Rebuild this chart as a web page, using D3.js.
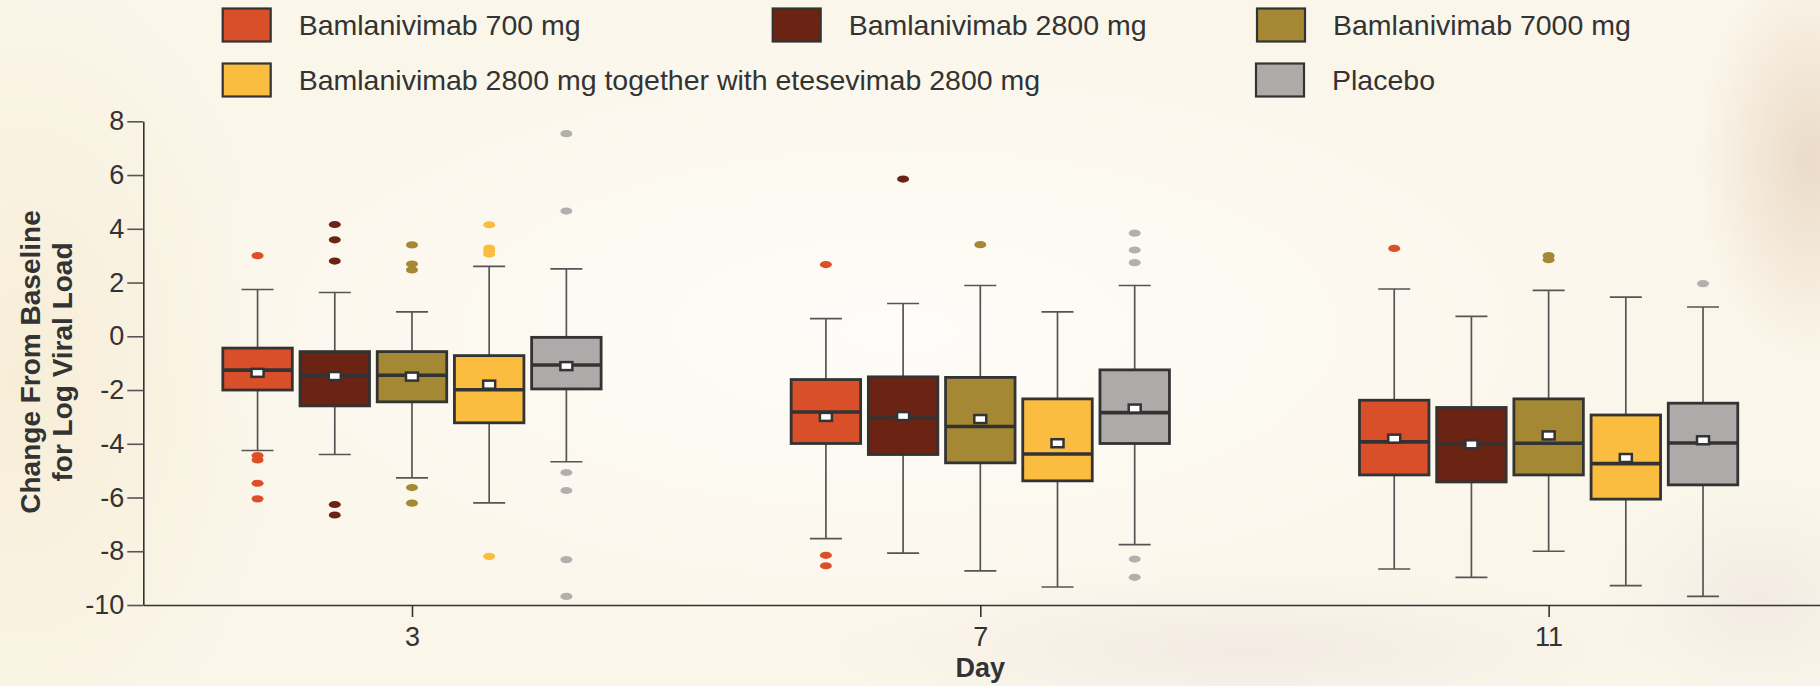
<!DOCTYPE html>
<html>
<head>
<meta charset="utf-8">
<script src="https://cdn.jsdelivr.net/npm/d3@7"></script>
<style>
  html, body { margin: 0; padding: 0; background: #fbf7ec; }
  svg { display: block; }
  text { font-family: "Liberation Sans", Arial, Helvetica, sans-serif; fill: #333; }
</style>
</head>
<body>
<svg id="chart" width="1820" height="686"></svg>
<script>
// ---------------- DATA ----------------
const days = [3, 7, 11];
const seriesNames = [
  "Bamlanivimab 700 mg",
  "Bamlanivimab 2800 mg",
  "Bamlanivimab 7000 mg",
  "Bamlanivimab 2800 mg together with etesevimab 2800 mg",
  "Placebo"
];
const seriesColors = ["#d94f2a", "#6b2413", "#a48833", "#fbbd40", "#adaaa9"];
const outlierColors = ["#dc5029", "#6b2413", "#a48833", "#fbbd40", "#b2b0ae"];
const yTicks = [-10, -8, -6, -4, -2, 0, 2, 4, 6, 8];

// each array: [series][day index] (days 3, 7, 11)
const whiskerLow = [
  [-4.25, -7.53, -8.66],
  [-4.40, -8.07, -8.97],
  [-5.27, -8.73, -8.00],
  [-6.20, -9.33, -9.28],
  [-4.67, -7.75, -9.68]
];
const q1 = [
  [-2.00, -3.99, -5.16],
  [-2.59, -4.40, -5.42],
  [-2.44, -4.71, -5.16],
  [-3.22, -5.38, -6.06],
  [-1.96, -3.99, -5.53]
];
const median = [
  [-1.26, -2.82, -3.93],
  [-1.46, -3.04, -4.02],
  [-1.45, -3.36, -3.98],
  [-1.99, -4.38, -4.74],
  [-1.07, -2.84, -3.97]
];
const q3 = [
  [-0.44, -1.61, -2.38],
  [-0.57, -1.51, -2.65],
  [-0.57, -1.53, -2.33],
  [-0.72, -2.33, -2.93],
  [-0.04, -1.25, -2.49]
];
const whiskerHigh = [
  [1.74, 0.66, 1.76],
  [1.63, 1.22, 0.74],
  [0.91, 1.89, 1.71],
  [2.60, 0.91, 1.46],
  [2.51, 1.89, 1.09]
];
const means = [
  [-1.36, -3.00, -3.81],
  [-1.48, -2.97, -4.02],
  [-1.50, -3.08, -3.69],
  [-1.80, -3.98, -4.53],
  [-1.11, -2.69, -3.87]
];
const outliers = [
  [[3.0, -4.44, -4.60, -5.47, -6.05], [2.67, -8.15, -8.54], [3.27]],
  [[4.16, 3.59, 2.80, -6.26, -6.65], [5.85], []],
  [[3.40, 2.69, 2.47, -5.63, -6.21], [3.41], [3.00, 2.85]],
  [[4.15, 3.28, 3.16, 3.06, -8.19], [], []],
  [[7.54, 4.66, -5.07, -5.74, -8.31, -9.68], [3.84, 3.21, 2.74, -8.29, -8.97], [1.96]]
];

// ---------------- LAYOUT ----------------
const W = 1820, H = 686;
const svg = d3.select("#chart");

// background paper
const defs = svg.append("defs");
function radial(id, color, op) {
  const g = defs.append("radialGradient").attr("id", id);
  g.append("stop").attr("offset", "0%").attr("stop-color", color).attr("stop-opacity", op);
  g.append("stop").attr("offset", "100%").attr("stop-color", color).attr("stop-opacity", 0);
}
radial("bgL", "#f3e6c6", 0.5);
radial("bgR", "#e6d2bd", 0.75);
radial("bgB", "#ece2de", 0.55);
radial("bgC", "#ffffff", 0.7);
svg.append("rect").attr("width", W).attr("height", H).attr("fill", "#fbf6ea");
svg.append("ellipse").attr("cx", 900).attr("cy", 330).attr("rx", 800).attr("ry", 330).attr("fill", "url(#bgC)");
svg.append("ellipse").attr("cx", 20).attr("cy", 380).attr("rx", 260).attr("ry", 420).attr("fill", "url(#bgL)");
svg.append("ellipse").attr("cx", 1810).attr("cy", 160).attr("rx", 110).attr("ry", 200).attr("fill", "url(#bgR)");
svg.append("ellipse").attr("cx", 1760).attr("cy", 600).attr("rx", 160).attr("ry", 120).attr("fill", "url(#bgB)");
svg.append("ellipse").attr("cx", 1250).attr("cy", 650).attr("rx", 420).attr("ry", 80).attr("fill", "url(#bgB)");

// scales
const y = d3.scaleLinear().domain([-10, 8]).range([605, 121.3]);
const x = d3.scaleLinear().domain([1.109, 12.91]).range([143.3, 1820]);
const inner = d3.scaleBand().domain(d3.range(seriesNames.length)).range([-193, 193])
  .paddingInner(0.1).paddingOuter(0.05);
const bw = inner.bandwidth();
const capW = 32;

// axes
const yAxis = svg.append("g").attr("transform", `translate(${x.range()[0]},0)`)
  .call(d3.axisLeft(y).tickValues(yTicks).tickSize(16).tickSizeOuter(0).tickPadding(3)
    .tickFormat(d => String(d)));
yAxis.select(".domain").attr("stroke", "#333").attr("stroke-width", 1.6);
yAxis.selectAll(".tick line").attr("stroke", "#555").attr("stroke-width", 1.6);
yAxis.selectAll(".tick text").attr("font-size", 27).attr("fill", "#333")
  .style("font-family", '"Liberation Sans", Arial, sans-serif');

const xAxis = svg.append("g").attr("transform", `translate(0,${y.range()[0]})`)
  .call(d3.axisBottom(x).tickValues(days).tickSize(12).tickSizeOuter(0).tickPadding(10)
    .tickFormat(d => String(d)));
xAxis.select(".domain").attr("stroke", "#333").attr("stroke-width", 1.6);
xAxis.selectAll(".tick line").attr("stroke", "#333").attr("stroke-width", 1.6);
xAxis.selectAll(".tick text").attr("font-size", 27).attr("fill", "#333")
  .style("font-family", '"Liberation Sans", Arial, sans-serif');

// axis titles
svg.append("text").attr("x", x(7)).attr("y", 677).attr("text-anchor", "middle")
  .attr("font-size", 27).attr("font-weight", "bold").text("Day");
const yt = svg.append("text").attr("transform", "translate(0,362) rotate(-90)")
  .attr("text-anchor", "middle").attr("font-size", 28).attr("font-weight", "bold");
yt.append("tspan").attr("x", 0).attr("y", 40).text("Change From Baseline");
yt.append("tspan").attr("x", 0).attr("y", 72).text("for Log Viral Load");

// boxes
const plot = svg.append("g");
seriesNames.forEach((name, s) => {
  days.forEach((day, d) => {
    const cx = x(day) + inner(s) + bw / 2;
    const g = plot.append("g");
    // whiskers
    g.append("line").attr("x1", cx).attr("x2", cx)
      .attr("y1", y(whiskerHigh[s][d])).attr("y2", y(whiskerLow[s][d]))
      .attr("stroke", "#555").attr("stroke-width", 1.7);
    [whiskerHigh[s][d], whiskerLow[s][d]].forEach(v => {
      g.append("line").attr("x1", cx - capW / 2).attr("x2", cx + capW / 2)
        .attr("y1", y(v)).attr("y2", y(v)).attr("stroke", "#555").attr("stroke-width", 1.7);
    });
    // box
    g.append("rect").attr("x", cx - bw / 2).attr("width", bw)
      .attr("y", y(q3[s][d])).attr("height", y(q1[s][d]) - y(q3[s][d]))
      .attr("fill", seriesColors[s]).attr("stroke", "#333").attr("stroke-width", 2.8);
    // median
    g.append("line").attr("x1", cx - bw / 2).attr("x2", cx + bw / 2)
      .attr("y1", y(median[s][d])).attr("y2", y(median[s][d]))
      .attr("stroke", "#333").attr("stroke-width", 3.6);
    // mean
    g.append("rect").attr("x", cx - 6).attr("y", y(means[s][d]) - 4)
      .attr("width", 12).attr("height", 8)
      .attr("fill", "#fff").attr("stroke", "#333").attr("stroke-width", 2.5);
    // outliers
    outliers[s][d].forEach(v => {
      g.append("ellipse").attr("cx", cx).attr("cy", y(v)).attr("rx", 6).attr("ry", 3.6)
        .attr("fill", outlierColors[s]);
    });
  });
});

// legend
const legendItems = [
  { s: 0, x: 222.7, row: 0 },
  { s: 1, x: 772.7, row: 0 },
  { s: 2, x: 1257, row: 0 },
  { s: 3, x: 222.7, row: 1 },
  { s: 4, x: 1256, row: 1 }
];
const rowY = [25, 80];
const lg = svg.append("g");
legendItems.forEach(it => {
  lg.append("rect").attr("x", it.x).attr("y", rowY[it.row] - 16.5)
    .attr("width", 48).attr("height", 33)
    .attr("fill", seriesColors[it.s]).attr("stroke", "#333").attr("stroke-width", 2.2);
  lg.append("text").attr("x", it.x + 76).attr("y", rowY[it.row]).attr("dy", "0.36em")
    .attr("font-size", 28.5).text(seriesNames[it.s]);
});
</script>
</body>
</html>
